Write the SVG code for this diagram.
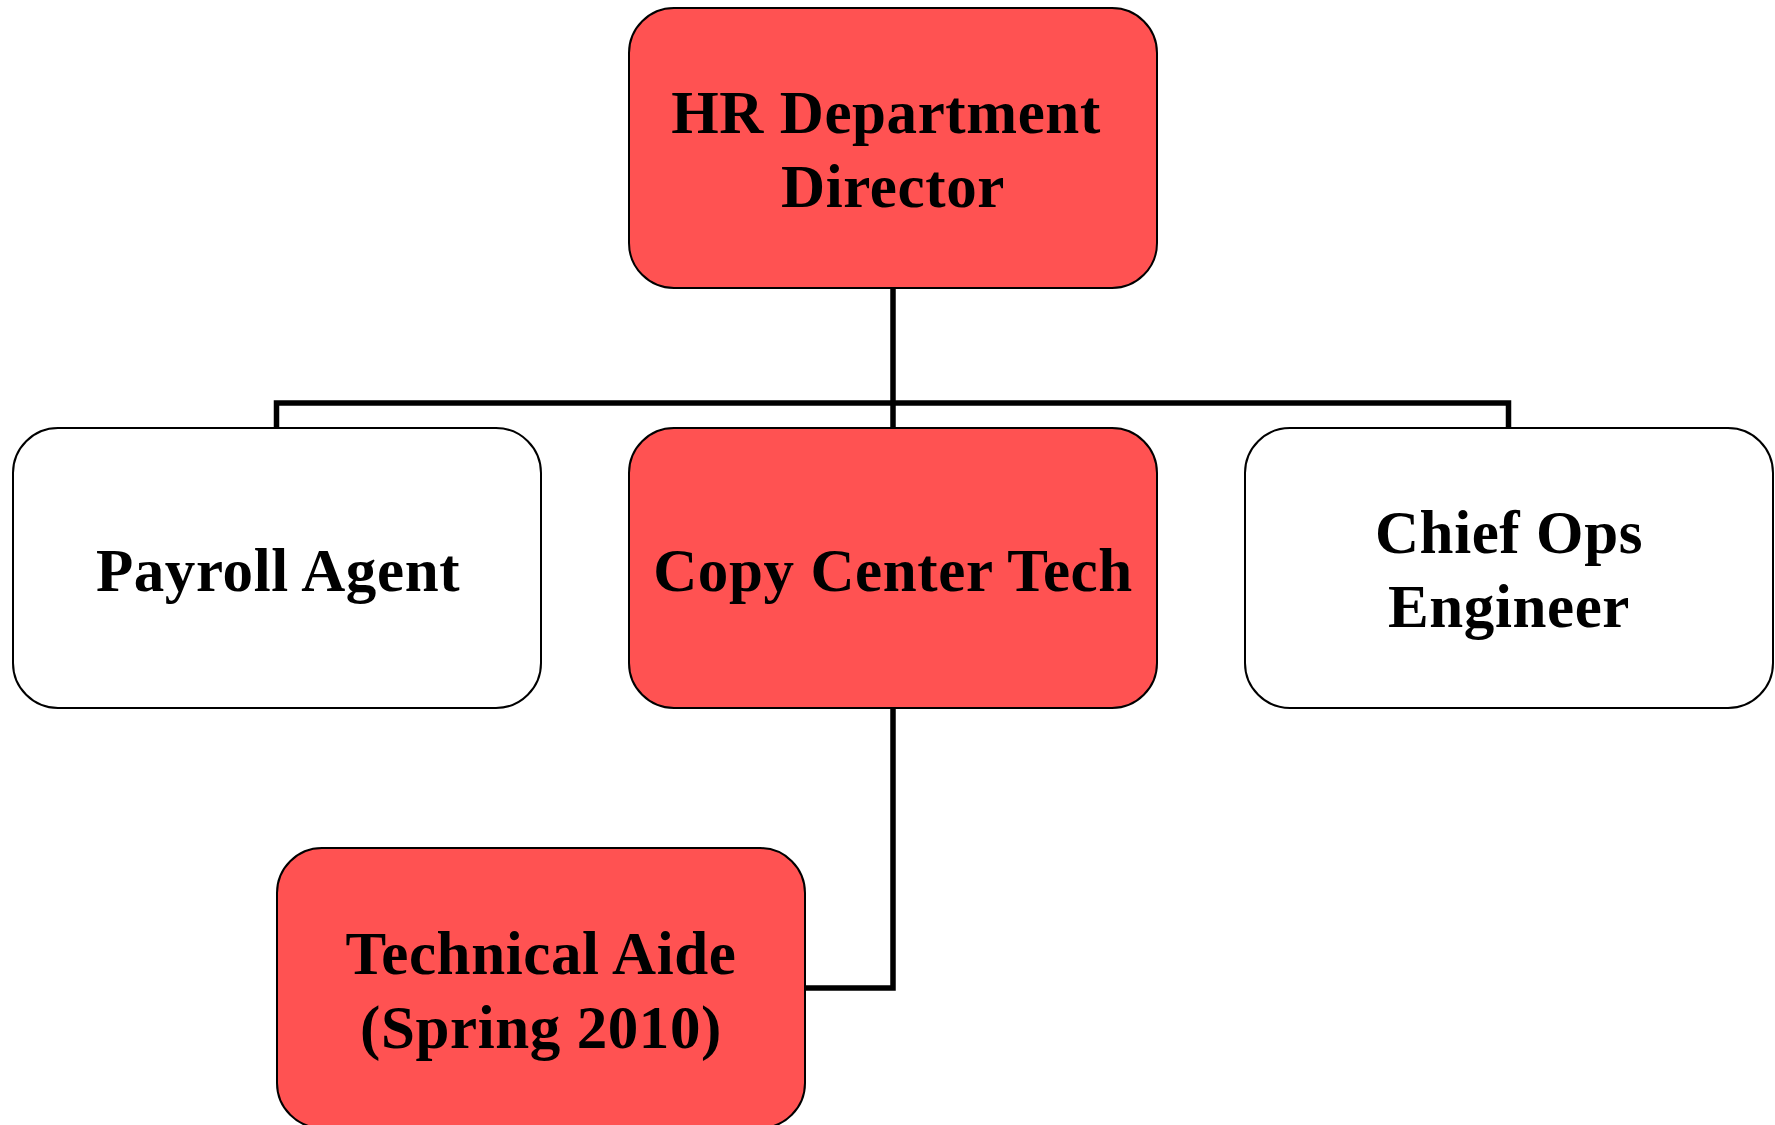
<svg xmlns="http://www.w3.org/2000/svg" width="1775" height="1125" viewBox="0 0 1775 1125">
<style>
.box{stroke:#000;stroke-width:2}
.red{fill:#FF5252}
.white{fill:#FFFFFF}
.lbl{font-family:"Liberation Serif","Times New Roman",serif;font-weight:bold;font-size:61px;letter-spacing:0.6px;fill:#000;text-anchor:middle}
.conn{fill:none;stroke:#000;stroke-width:5.5}
</style>
<rect width="1775" height="1125" fill="#FFFFFF"/>
<g id="connectors">
<path class="conn" d="M893,288 V428"/>
<path class="conn" d="M276.5,428 V403 H1508.5 V428"/>
<path class="conn" d="M893,708 V988 H805"/>
</g>
<g id="hr-director">
<rect class="box red" x="629" y="8" width="528" height="280" rx="45" ry="45"/>
<text class="lbl" x="886" y="133">HR Department</text>
<text class="lbl" x="893" y="207">Director</text>
</g>
<g id="payroll-agent">
<rect class="box white" x="13" y="428" width="528" height="280" rx="45" ry="45"/>
<text class="lbl" x="278" y="591">Payroll Agent</text>
</g>
<g id="copy-center-tech">
<rect class="box red" x="629" y="428" width="528" height="280" rx="45" ry="45"/>
<text class="lbl" x="893" y="591">Copy Center Tech</text>
</g>
<g id="chief-ops-engineer">
<rect class="box white" x="1245" y="428" width="528" height="280" rx="45" ry="45"/>
<text class="lbl" x="1509" y="553">Chief Ops</text>
<text class="lbl" x="1509" y="627">Engineer</text>
</g>
<g id="technical-aide">
<rect class="box red" x="277" y="848" width="528" height="280" rx="45" ry="45"/>
<text class="lbl" x="541" y="974">Technical Aide</text>
<text class="lbl" x="541" y="1048">(Spring 2010)</text>
</g>
</svg>
